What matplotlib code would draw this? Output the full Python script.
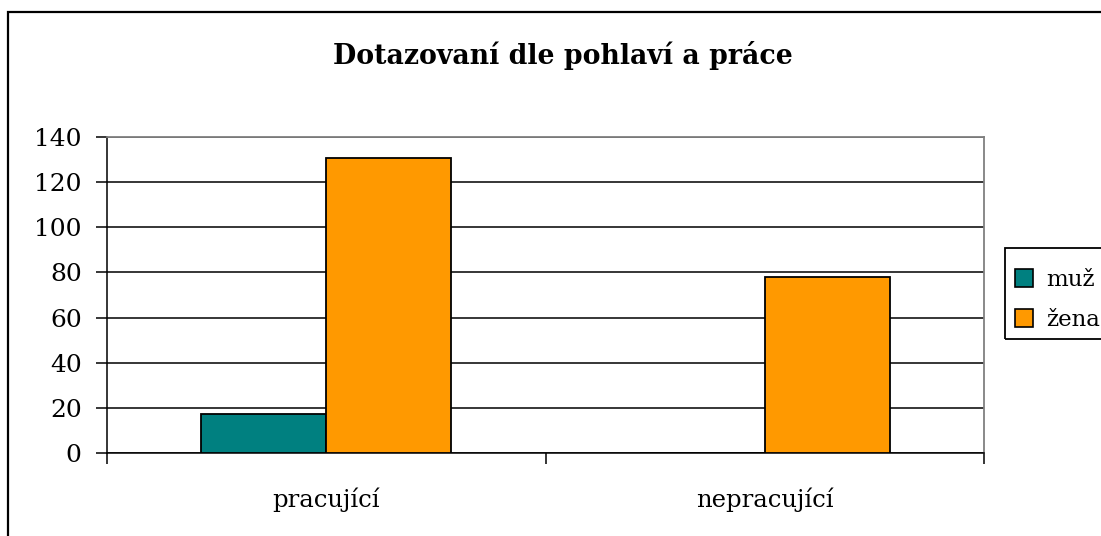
import matplotlib
matplotlib.use("Agg")
import matplotlib.pyplot as plt
import numpy as np
from matplotlib.patches import Rectangle

categories = ["pracující", "nepracující"]
series_names = ["muž", "žena"]
muz_values = [17, 0]
zena_values = [131, 78]
y_ticks = [0, 20, 40, 60, 80, 100, 120, 140]
title = "Dotazovaní dle pohlaví a práce"

colors = ["#008080", "#FF9900"]
FONT = "DejaVu Serif"

W, H = 1101, 536
fig = plt.figure(figsize=(W / 100, H / 100), dpi=100)
fig.patch.set_facecolor("white")

ax = fig.add_axes([106.7 / W, 1 - 452.7 / H, (984.3 - 106.7) / W, (452.7 - 137.3) / H])

x = np.arange(len(categories))
bw = 1 / 3.5
ax.bar(x - bw / 2, muz_values, bw, color=colors[0], edgecolor="black", linewidth=1.3,
       label=series_names[0], zorder=3)
ax.bar(x + bw / 2, zena_values, bw, color=colors[1], edgecolor="black", linewidth=1.3,
       label=series_names[1], zorder=3)

ax.set_xlim(-0.5, len(categories) - 0.5)
ax.set_ylim(0, 140)
ax.set_yticks(y_ticks)
ax.set_yticklabels([str(v) for v in y_ticks], fontfamily=FONT, fontsize=18)
ax.yaxis.grid(True, color="black", linewidth=1.1, zorder=0)
ax.set_axisbelow(True)

ax.set_xticks(np.arange(-0.5, len(categories), 1.0))
ax.set_xticklabels([])
ax.set_xticks(x, minor=True)
ax.set_xticklabels(categories, minor=True, fontfamily=FONT, fontsize=17.5)
ax.tick_params(axis="x", which="minor", length=0, pad=25)
ax.tick_params(axis="x", which="major", direction="out", length=8, width=1.1)
ax.tick_params(axis="y", direction="out", length=8, width=1.1, pad=10)

for s in ["top", "right"]:
    ax.spines[s].set_color("#808080")
    ax.spines[s].set_linewidth(1.3)
for s in ["left", "bottom"]:
    ax.spines[s].set_color("black")
    ax.spines[s].set_linewidth(1.1)

fig.text(562.5 / W, 1 - 55 / H, title, ha="center", va="center",
         fontfamily=FONT, fontweight="bold", fontsize=19.3)

# legend (drawn manually so that it can run off the right edge like the reference)
fig.add_artist(Rectangle((1005 / W, 1 - 339 / H), 120 / W, 91 / H, transform=fig.transFigure,
                         fill=False, edgecolor="black", linewidth=1.3))
for i, (name, col) in enumerate(zip(series_names, colors)):
    yc = 278 + 40 * i
    fig.add_artist(Rectangle((1015 / W, 1 - (yc + 9) / H), 18 / W, 18 / H,
                             transform=fig.transFigure, facecolor=col,
                             edgecolor="black", linewidth=1.2))
    fig.text(1046 / W, 1 - yc / H, name, ha="left", va="center_baseline",
             fontfamily=FONT, fontsize=16.5)

fig.add_artist(Rectangle((8 / W, -0.1), 1.2, 0.1 + 1 - 12 / H, transform=fig.transFigure,
                         fill=False, edgecolor="black", linewidth=1.6))

fig.savefig("out.png", dpi=100)
